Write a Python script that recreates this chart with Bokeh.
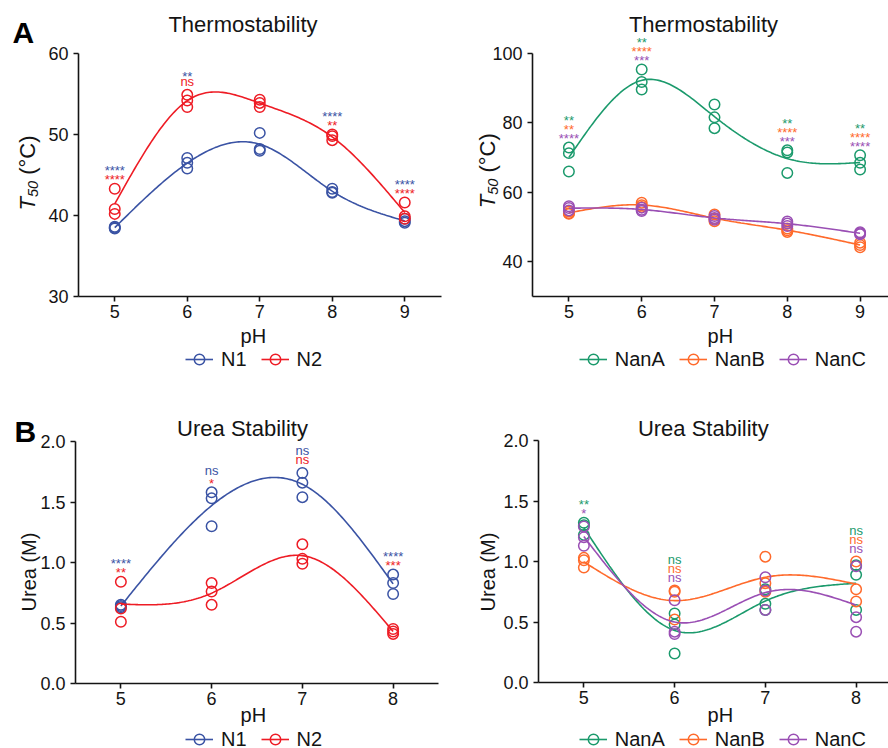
import numpy as np
from bokeh.plotting import figure
from bokeh.layouts import column, row
from bokeh.models import (Label, Legend, LegendItem, FixedTicker, Range1d,
                          PrintfTickFormatter)
from bokeh.embed import file_html
from bokeh.resources import INLINE

FONT = "Liberation Sans"

# ---------------- data ----------------
ph_thermo = [5, 6, 7, 8, 9]
ph_urea = [5, 6, 7, 8]

N1_T50 = [[38.4, 38.6, 38.5], [47.1, 46.5, 45.8], [50.2, 48.2, 48.0], [43.3, 42.9, 42.8], [39.6, 39.3, 39.1]]
N2_T50 = [[43.3, 40.8, 40.2], [54.9, 54.2, 53.4], [54.3, 53.9, 53.4], [50.0, 49.8, 49.3], [41.6, 39.9, 39.6]]
NanA_T50 = [[72.9, 71.3, 66.0], [95.4, 91.8, 89.6], [85.3, 81.6, 78.5], [72.1, 71.5, 65.6], [70.7, 68.5, 66.6]]
NanB_T50 = [[54.5, 54.0, 53.8], [57.0, 56.3, 55.8], [53.6, 52.4, 51.7], [49.6, 49.1, 48.6], [45.5, 44.8, 44.2]]
NanC_T50 = [[56.0, 55.5, 54.8], [55.6, 55.0, 54.6], [53.2, 52.6, 52.1], [51.6, 51.0, 50.3], [48.5, 48.2, 47.9]]

N1_urea = [[0.65, 0.64, 0.63], [1.58, 1.53, 1.30], [1.74, 1.66, 1.54], [0.90, 0.83, 0.74]]
N2_urea = [[0.84, 0.62, 0.51], [0.83, 0.76, 0.65], [1.15, 1.03, 0.99], [0.45, 0.43, 0.41]]
NanA_urea = [[1.32, 1.30, 1.22], [0.57, 0.48, 0.24], [0.77, 0.65, 0.60], [0.97, 0.89, 0.60]]
NanB_urea = [[1.03, 1.01, 0.95], [0.76, 0.75, 0.52], [1.04, 0.82, 0.75], [1.00, 0.77, 0.67]]
NanC_urea = [[1.29, 1.20, 1.13], [0.68, 0.42, 0.40], [0.87, 0.76, 0.60], [0.96, 0.54, 0.42]]

# significance labels per pH (stacked top to bottom in series order)
sig_N1_T50 = ["****", "**", "", "****", "****"]
sig_N2_T50 = ["****", "ns", "", "**", "****"]
sig_NanA_T50 = ["**", "**", "", "**", "**"]
sig_NanB_T50 = ["**", "****", "", "****", "****"]
sig_NanC_T50 = ["****", "***", "", "***", "****"]
sig_N1_urea = ["****", "ns", "ns", "****"]
sig_N2_urea = ["**", "*", "ns", "***"]
sig_NanA_urea = ["**", "ns", "", "ns"]
sig_NanB_urea = ["", "ns", "", "ns"]
sig_NanC_urea = ["*", "ns", "", "ns"]

thermo_yticks_N = [30, 40, 50, 60]
thermo_yticks_Nan = [40, 60, 80, 100]
urea_yticks = [0.0, 0.5, 1.0, 1.5, 2.0]

BLUE = "#3A53A4"
RED = "#EE1C25"
GREEN = "#1B9A6C"
ORANGE = "#FF6A2B"
PURPLE = "#9A4FB4"
INK = "#141414"

W, H = 444, 374


def spline(xs, ys, n=160):
    xs = np.asarray(xs, float)
    ys = np.asarray(ys, float)
    k = len(xs)
    h = np.diff(xs)
    A = np.zeros((k, k))
    b = np.zeros(k)
    A[0, 0] = 1
    A[-1, -1] = 1
    for i in range(1, k - 1):
        A[i, i - 1] = h[i - 1]
        A[i, i] = 2 * (h[i - 1] + h[i])
        A[i, i + 1] = h[i]
        b[i] = 6 * ((ys[i + 1] - ys[i]) / h[i] - (ys[i] - ys[i - 1]) / h[i - 1])
    M = np.linalg.solve(A, b)
    xx = np.linspace(xs[0], xs[-1], n)
    idx = np.clip(np.searchsorted(xs, xx) - 1, 0, k - 2)
    x0 = xs[idx]
    x1 = xs[idx + 1]
    hh = x1 - x0
    t0 = x1 - xx
    t1 = xx - x0
    yy = ((M[idx] * t0 ** 3 + M[idx + 1] * t1 ** 3) / (6 * hh)
          + (ys[idx] / hh - M[idx] * hh / 6) * t0
          + (ys[idx + 1] / hh - M[idx + 1] * hh / 6) * t1)
    return xx, yy


def extend(d0, d1, p0, p1, size):
    """data value at pixel 0 and at pixel `size`, given d0@p0 and d1@p1"""
    f = lambda px: d0 + (px - p0) * (d1 - d0) / (p1 - p0)
    return f(0), f(size)


def lab(p, text, x, y, size, **kw):
    # x, y: figure-local pixels from top-left (y = visual middle)
    opts = dict(x_units="screen", y_units="screen", text_font=FONT,
                text_font_size=f"{size}px", text_color=INK,
                text_baseline="middle")
    opts.update(kw)
    p.add_layout(Label(x=x, y=H - y, text=text, **opts))


def panel(xbox, ybox, xdata, ydata, yticks, yfmt, ph, series, title,
          title_xy, letter, letter_xy, ph_xy, legend_xy):
    x0, x1 = extend(xdata[0], xdata[1], xbox[0], xbox[1], W)
    ytop, ybot = extend(ydata[1], ydata[0], ybox[0], ybox[1], H)
    p = figure(width=W, height=H, x_range=Range1d(x0, x1), y_range=Range1d(ybot, ytop),
               output_backend="svg", toolbar_location=None, title=None,
               min_border=0, min_border_left=0, min_border_right=0,
               min_border_top=0, min_border_bottom=0)
    p.outline_line_color = None
    p.xgrid.visible = False
    p.ygrid.visible = False
    p.background_fill_color = "white"
    p.border_fill_color = "white"
    p.xaxis.ticker = FixedTicker(ticks=ph)
    p.yaxis.ticker = FixedTicker(ticks=yticks)
    p.xaxis.fixed_location = ydata[0]
    p.xaxis.bounds = (xdata[0], xdata[1])
    p.yaxis.fixed_location = xdata[0]
    p.yaxis.bounds = (ydata[0], ydata[1])
    if yfmt:
        p.yaxis.formatter = PrintfTickFormatter(format=yfmt)
    for ax in (p.xaxis, p.yaxis):
        ax.axis_line_width = 1.6
        ax.axis_line_color = INK
        ax.major_tick_line_width = 1.6
        ax.major_tick_line_color = INK
        ax.major_tick_out = 5
        ax.major_tick_in = 0
        ax.minor_tick_line_color = None
        ax.major_label_text_font = FONT
        ax.major_label_text_font_size = "18px"
        ax.major_label_text_color = INK
    p.xaxis.major_label_standoff = 3
    p.yaxis.major_label_standoff = 5

    items = []
    for name, color, vals, sig in series:
        means = [float(np.mean(v)) for v in vals]
        xx, yy = spline(ph, means)
        lr = p.line(xx, yy, line_color=color, line_width=1.6)
        px = [x for x, v in zip(ph, vals) for _ in v]
        py = [y for v in vals for y in v]
        sr = p.scatter(px, py, marker="circle", size=10.5, fill_alpha=0,
                       line_color=color, line_width=1.5)
        items.append(LegendItem(label=name, renderers=[lr, sr]))

    # significance stacks
    for i, x in enumerate(ph):
        top = max(max(s[2][i]) for s in series)
        rows = [(s[3][i], s[1]) for s in series if s[3][i]]
        for r, (txt, color) in enumerate(reversed(rows)):
            adj = 1.1 if txt == "ns" else -3.0
            p.add_layout(Label(x=x, y=top, x_units="data", y_units="data",
                               text=txt, text_align="center",
                               text_baseline="middle",
                               y_offset=12 + 9 * r + adj,
                               text_font=FONT, text_font_size="13px",
                               text_color=color))

    lab(p, title, title_xy[0], title_xy[1], 22, text_align="center")
    if letter:
        lab(p, letter, letter_xy[0], letter_xy[1], 30, text_font_style="bold",
            text_align="left", text_color="black")
    lab(p, "pH", ph_xy[0], ph_xy[1], 20, text_align="center")

    lh = 26
    leg = Legend(items=items, orientation="horizontal",
                 location=(legend_xy[0], H - legend_xy[1] - lh / 2),
                 glyph_width=28, glyph_height=lh, label_height=lh,
                 label_standoff=8, spacing=14, padding=0, margin=0,
                 border_line_alpha=0, background_fill_alpha=0,
                 label_text_font=FONT, label_text_font_size="20px",
                 label_text_color=INK)
    p.add_layout(leg)
    return p


def t50_label(p, x, y):
    # rotated "T50 (°C)" built from pieces; x = cap middle, y = bottom end
    lab(p, "T", x, y, 22, angle=np.pi / 2, text_font_style="italic",
        text_align="left")
    y2 = y - 0.611 * 22
    lab(p, "50", x + 5.5, y2, 14.5, angle=np.pi / 2, text_font_style="italic",
        text_align="left")
    y3 = y2 - 2 * 0.556 * 14.5 - 0.278 * 22
    lab(p, "(°C)", x, y3, 22, angle=np.pi / 2, text_align="left")


pA1 = panel((78, 440.5), (53, 296), (4.5, 9.5), (30, 60), thermo_yticks_N, None, ph_thermo,
            [("N1", BLUE, N1_T50, sig_N1_T50), ("N2", RED, N2_T50, sig_N2_T50)],
            "Thermostability", (242.5, 24), "A", (12, 32), (252.8, 335), (185, 359))
t50_label(pA1, 27, 210)

pA2 = panel((88, 452), (53, 296), (4.5, 9.5), (30, 100), thermo_yticks_Nan, None, ph_thermo,
            [("NanA", GREEN, NanA_T50, sig_NanA_T50), ("NanB", ORANGE, NanB_T50, sig_NanB_T50),
             ("NanC", PURPLE, NanC_T50, sig_NanC_T50)],
            "Thermostability", (259, 24), None, None, (275.8, 335), (134.7, 359))
t50_label(pA2, 43, 207.7)

pB1 = panel((75, 438), (67, 309), (4.5, 8.5), (0, 2.0), urea_yticks, "%.1f", ph_urea,
            [("N1", BLUE, N1_urea, sig_N1_urea), ("N2", RED, N2_urea, sig_N2_urea)],
            "Urea Stability", (242, 53.5), "B", (14, 57), (252.8, 340.5), (185, 365))
lab(pB1, "Urea (M)", 28, 197.5, 20, angle=np.pi / 2, text_align="center")

pB2 = panel((94, 457), (66, 308), (4.5, 8.5), (0, 2.0), urea_yticks, "%.1f", ph_urea,
            [("NanA", GREEN, NanA_urea, sig_NanA_urea), ("NanB", ORANGE, NanB_urea, sig_NanB_urea),
             ("NanC", PURPLE, NanC_urea, sig_NanC_urea)],
            "Urea Stability", (258.8, 53.5), None, None, (275.8, 340.5), (134.7, 365))
lab(pB2, "Urea (M)", 43, 197.5, 20, angle=np.pi / 2, text_align="center")

layout = column(row(pA1, pA2), row(pB1, pB2))
open("out.html", "w").write(file_html(layout, INLINE))
